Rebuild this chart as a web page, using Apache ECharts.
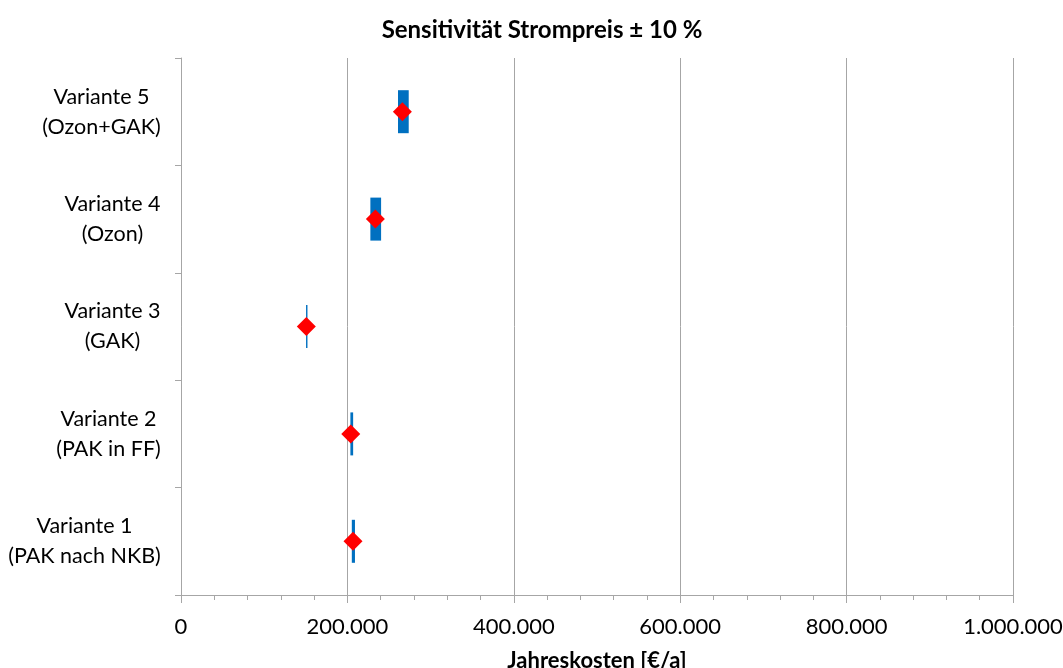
<!DOCTYPE html>
<html><head><meta charset="utf-8">
<script src="https://cdn.jsdelivr.net/npm/echarts@6/dist/echarts.min.js"></script>
<style>html,body{margin:0;padding:0;background:#fff}#c{width:1063px;height:668px}</style>
</head><body><div id="c"></div>
<script>
const titleText = 'Sensitivität Strompreis ± 10 %';
const axisName = 'Jahreskosten [€/a]';
const categories = ['Variante 1\n(PAK nach NKB)', 'Variante 2\n(PAK in FF)', 'Variante 3\n(GAK)', 'Variante 4\n(Ozon)', 'Variante 5\n(Ozon+GAK)'];
const lowValues  = [205300, 203600, 150300, 227600, 260800];
const highValues = [209100, 206900, 152000, 240500, 273700];
const baseValues = [206700, 204000, 150600, 233600, 266100];
const xMin = 0, xMax = 1000000, xInterval = 200000;

const FONT = 'Lato';
const catFontSize = 21.5;
const cv = document.createElement('canvas').getContext('2d');
cv.font = catFontSize + 'px ' + FONT;
const rich = {};
categories.forEach((c, i) => {
  const w = Math.max(...c.split('\n').map(s => cv.measureText(s).width));
  rich['w' + i] = {width: Math.ceil(w), align: 'center', fontFamily: FONT, fontSize: catFontSize, color: '#000', lineHeight: 30};
});

const chart = echarts.init(document.getElementById('c'));
chart.setOption({
  backgroundColor: '#fff',
  animation: false,
  title: {text: titleText, left: 537, textAlign: 'center', top: 13,
    textStyle: {fontFamily: FONT, fontWeight: 'bold', fontSize: 24, color: '#000'}},
  grid: {left: 181, right: 50, top: 58, bottom: 73, containLabel: false, outerBoundsMode: 'none'},
  xAxis: {
    type: 'value', min: xMin, max: xMax, interval: xInterval,
    name: axisName, nameLocation: 'middle', nameGap: 55,
    nameTextStyle: {fontFamily: FONT, fontWeight: 'bold', fontSize: 22, color: '#000'},
    axisLine: {show: true, lineStyle: {color: '#a6a6a6', width: 1}},
    axisTick: {show: true, length: 8, lineStyle: {color: '#a6a6a6'}},
    minorTick: {show: true, splitNumber: 5, length: 5, lineStyle: {color: '#a6a6a6'}},
    splitLine: {show: true, lineStyle: {color: '#a6a6a6', width: 1}},
    axisLabel: {fontFamily: FONT, fontSize: 22, color: '#000', margin: 21,
      formatter: v => String(v).replace(/\B(?=(\d{3})+(?!\d))/g, '.')}
  },
  yAxis: {
    type: 'category', data: categories,
    axisLine: {show: true, lineStyle: {color: '#a6a6a6'}},
    axisTick: {show: true, length: 6, lineStyle: {color: '#a6a6a6'}},
    splitLine: {show: false},
    axisLabel: {margin: 20, align: 'right',
      formatter: (v, i) => v.split('\n').map(s => '{w' + i + '|' + s + '}').join('\n'),
      rich: rich}
  },
  series: [
    {type: 'bar', stack: 'r', data: lowValues, barWidth: 43, itemStyle: {color: 'transparent'}, silent: true},
    {type: 'bar', stack: 'r', data: highValues.map((h, i) => h - lowValues[i]), barWidth: 43, itemStyle: {color: '#0070c0'}},
    {type: 'scatter', data: baseValues.map((v, i) => [v, i]), symbol: 'diamond', symbolSize: [19, 19], itemStyle: {color: '#ff0000', opacity: 1}, z: 5}
  ]
});
</script></body></html>
